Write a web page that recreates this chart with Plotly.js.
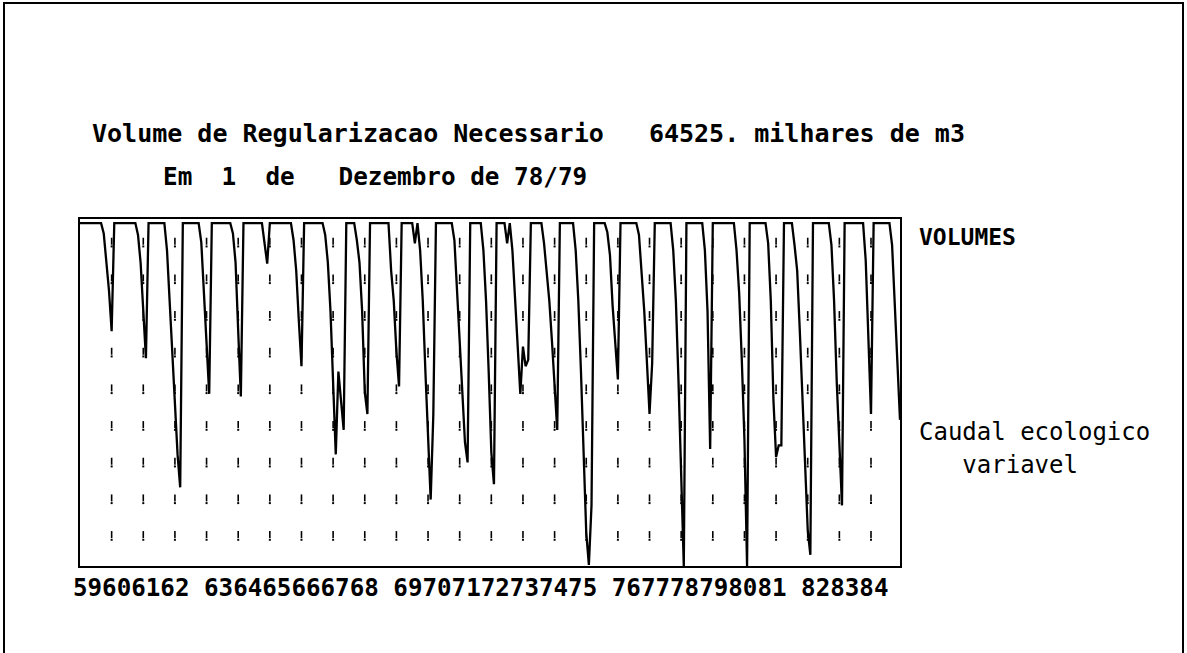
<!DOCTYPE html>
<html>
<head>
<meta charset="utf-8">
<script src="https://cdn.plot.ly/plotly-3.0.1.min.js"></script>
<style>
  html, body { margin: 0; padding: 0; background: #ffffff; }
  #chart { width: 1187px; height: 653px; }
</style>
</head>
<body>
<div id="chart"></div>
<script>
// Reservoir capacity (milhares de m3)
const F = 64525;

// Hydrological years shown along the bottom
const yearLabels = ['59','60','61','62','63','64','65','66','67','68','69','70','71',
                    '72','73','74','75','76','77','78','79','80','81','82','83','84'];
// How the year labels are packed into the text line under the plot
const labelGroups = [4, 6, 7, 6, 3];

// Monthly stored volume, one row per hydrological year (milhares de m3)
const volumes = [
  F,F,F,F,F,F,F,F,F,62600,57100,51800,
  44200,F,F,F,F,F,F,F,F,F,62300,57000,
  48000,39100,F,F,F,F,F,F,F,59400,49900,40400,
  29000,21000,14800,F,F,F,F,F,F,F,60900,51800,
  40400,32400,F,F,F,F,F,F,F,F,62600,57100,
  44200,31900,F,F,F,F,F,F,F,F,60700,56900,
  F,F,F,F,F,F,F,F,F,61300,55600,46100,
  37600,F,F,F,F,F,F,F,F,62300,57100,48000,
  34700,21000,36600,30900,25600,F,F,F,F,61300,57100,48000,
  32800,28600,F,F,F,F,F,F,F,F,55600,49900,
  40400,33800,F,F,F,F,F,60700,F,59400,49900,36600,
  23300,12500,28400,F,F,F,F,F,F,F,61300,51800,
  40400,30900,23300,19500,F,F,F,F,F,59400,49900,36600,
  21400,15400,F,F,F,F,60700,F,59400,49900,40400,32400,
  41300,37600,38800,F,F,F,F,F,60700,55600,49900,42300,
  32800,25600,F,F,F,F,F,F,59400,49900,36600,19500,
  6300,200,11400,F,F,F,F,F,62800,58500,49000,41500,
  35100,F,F,F,F,F,F,F,62300,55600,48000,38500,
  28600,38100,F,F,F,F,F,F,F,59400,49900,34700,
  17600,0,F,F,F,F,F,F,F,59400,48000,22000,
  F,F,F,F,F,F,F,F,F,59400,51400,38800,
  23700,0,F,F,F,F,F,F,F,60700,49900,31200,
  20500,22700,22700,F,F,F,F,60400,55600,44200,31200,16200,
  6800,2100,F,F,F,F,F,F,F,60400,49900,34700,
  21400,11400,F,F,F,F,F,F,F,F,57500,44200,
  28600,F,F,F,F,F,F,F,60400,49900,38700,27500
];

// Dotted reference marks: at every year boundary (month index) and these volume levels
const gridMonths = [12,24,36,48,60,72,84,96,108,120,132,144,156,168,180,192,204,216,228,240,252,264,276,288,300];
const gridLevels = [5500,12400,19300,26200,33100,40000,46900,53800,60700];

const titleText = 'Volume de Regularizacao Necessario   64525. milhares de m3';
const subtitleText = 'Em  1  de   Dezembro de 78/79';
const seriesLabel = 'VOLUMES';
const noteLines = ['Caudal ecologico', '   variavel'];

// ---- geometry of the page ----
const W = 1187, H = 653;
const plotL = 80, plotR = 900, plotT = 219, plotB = 566;
const yTop = 65300;                       // axis top, leaves a small gap above the full line
const pxPerUnit = (plotB - plotT) / yTop; // pixels per milhar de m3

const keepSpaces = s => s.replace(/ /g, '\u00a0');
const px2paperX = px => (px - plotL) / (plotR - plotL);
const px2paperY = py => (plotB - py) / (plotB - plotT);

const months = volumes.map((_, i) => i);

// grid marks: a short dash with a dot under it
const dashX = [], dashY = [], dotX = [], dotY = [];
gridMonths.forEach(m => gridLevels.forEach(v => {
  dashX.push(m); dashY.push(v + 2.2 / pxPerUnit);
  dotX.push(m);  dotY.push(v - 3 / pxPerUnit);
}));

// bottom text line of year labels
let pos = 0;
const labelLine = labelGroups.map(n => {
  const part = yearLabels.slice(pos, pos + n).join('');
  pos += n;
  return part;
}).join(' ');

const monoFont = '"DejaVu Sans Mono", "Liberation Mono", monospace';

const traces = [
  {
    x: dashX, y: dashY, type: 'scatter', mode: 'markers', hoverinfo: 'skip',
    marker: { symbol: 'line-ns', size: 5, line: { color: '#000', width: 1.6 } },
    showlegend: false
  },
  {
    x: dotX, y: dotY, type: 'scatter', mode: 'markers', hoverinfo: 'skip',
    marker: { symbol: 'square', size: 2, color: '#000', line: { width: 0 } },
    showlegend: false
  },
  {
    x: months, y: volumes, type: 'scatter', mode: 'lines', name: seriesLabel,
    line: { color: '#000', width: 2.3 }, hoverinfo: 'x+y', showlegend: false
  }
];

const layout = {
  width: W, height: H,
  paper_bgcolor: '#ffffff', plot_bgcolor: '#ffffff',
  margin: { l: plotL, r: W - plotR, t: plotT, b: H - plotB, pad: 0 },
  showlegend: false,
  title: {
    text: keepSpaces(titleText),
    xref: 'container', yref: 'container',
    x: 92 / W, xanchor: 'left',
    y: 1 - 133 / H, yanchor: 'middle',
    font: { family: monoFont, size: 25, color: '#000', weight: 'bold' }
  },
  xaxis: {
    range: [0, months.length - 1], fixedrange: true,
    showgrid: false, zeroline: false, showticklabels: false, ticks: '',
    showline: true, mirror: true, linecolor: '#000', linewidth: 2
  },
  yaxis: {
    range: [0, yTop], fixedrange: true,
    showgrid: false, zeroline: false, showticklabels: false, ticks: '',
    showline: true, mirror: true, linecolor: '#000', linewidth: 2
  },
  shapes: [
    { type: 'rect', xref: 'paper', yref: 'paper',
      x0: px2paperX(4), x1: px2paperX(1183), y0: px2paperY(662), y1: px2paperY(3),
      line: { color: '#000', width: 2 }, fillcolor: 'rgba(0,0,0,0)', layer: 'below' }
  ],
  annotations: [
    { text: keepSpaces(subtitleText), xref: 'paper', yref: 'paper',
      x: px2paperX(161), y: px2paperY(176), xanchor: 'left', yanchor: 'middle', showarrow: false,
      font: { family: monoFont, size: 24.3, color: '#000', weight: 'bold' } },
    { text: seriesLabel, xref: 'paper', yref: 'paper',
      x: px2paperX(917), y: px2paperY(237), xanchor: 'left', yanchor: 'middle', showarrow: false,
      font: { family: monoFont, size: 23, color: '#000', weight: 'bold' } },
    { text: keepSpaces(noteLines[0]), xref: 'paper', yref: 'paper',
      x: px2paperX(917), y: px2paperY(432), xanchor: 'left', yanchor: 'middle', showarrow: false,
      font: { family: monoFont, size: 24, color: '#000' } },
    { text: keepSpaces(noteLines[1]), xref: 'paper', yref: 'paper',
      x: px2paperX(917), y: px2paperY(465), xanchor: 'left', yanchor: 'middle', showarrow: false,
      font: { family: monoFont, size: 24, color: '#000' } },
    { text: labelLine, xref: 'paper', yref: 'paper',
      x: px2paperX(71), y: px2paperY(588), xanchor: 'left', yanchor: 'middle', showarrow: false,
      font: { family: monoFont, size: 24.2, color: '#000', weight: 'bold' } }
  ]
};

Plotly.newPlot('chart', traces, layout, { staticPlot: true, displayModeBar: false });
</script>
</body>
</html>
